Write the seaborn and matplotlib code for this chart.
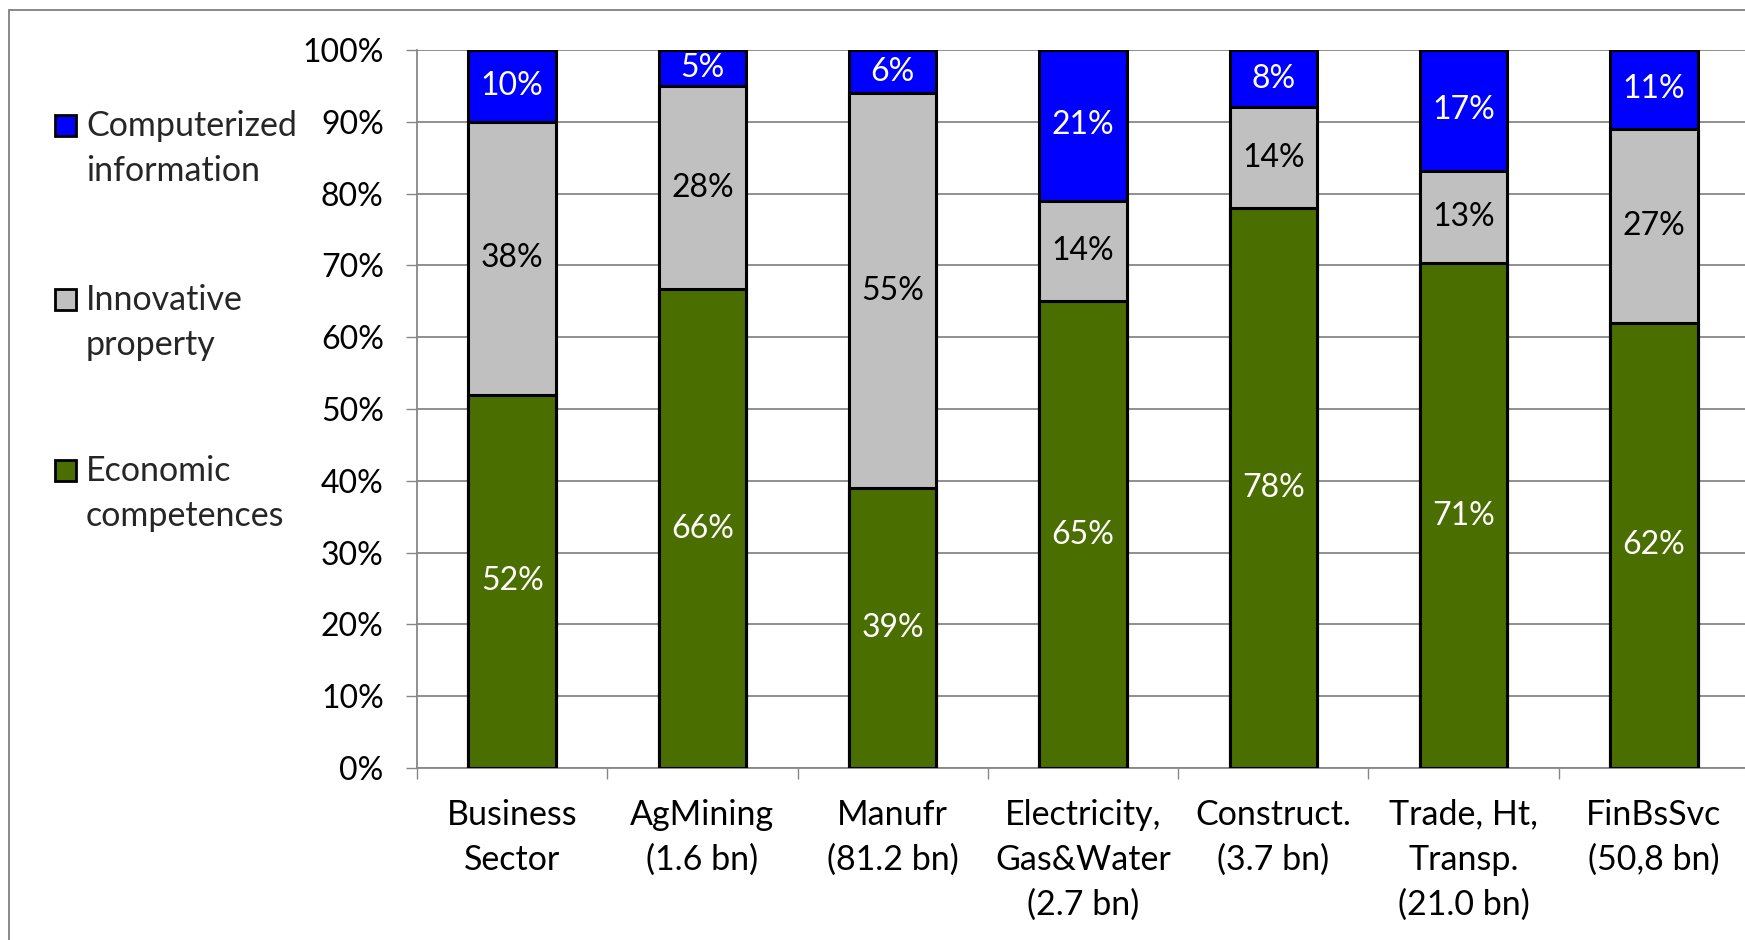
import numpy as np
import pandas as pd
import seaborn as sns
import matplotlib.pyplot as plt
from matplotlib.patches import Rectangle
from matplotlib.ticker import FixedLocator, FuncFormatter

# Intangible investment by asset type, share of each sector's total
sectors = [
    "Business\nSector",
    "AgMining\n(1.6 bn)",
    "Manufr\n(81.2 bn)",
    "Electricity,\nGas&Water\n(2.7 bn)",
    "Construct.\n(3.7 bn)",
    "Trade, Ht,\nTransp.\n(21.0 bn)",
    "FinBsSvc\n(50,8 bn)",
]
economic = [52, 66, 39, 65, 78, 71, 62]
innovative = [38, 28, 55, 14, 14, 13, 27]
computerized = [10, 5, 6, 21, 8, 17, 11]

series_names = ["Economic\ncompetences", "Innovative\nproperty", "Computerized\ninformation"]
series_values = [economic, innovative, computerized]
series_colors = ["#4a6e00", "#c0c0c0", "#0000ff"]
label_colors = ["white", "black", "white"]

FONT = "Lato"
FS_TEXT = 24.5   # category names and legend
FS_NUM = 23      # percentages
LINESPACING = 1.5

sns.set_theme(style="white")
plt.rcParams["font.family"] = [FONT, "DejaVu Sans"]

# 100 % stacked: each layer as a share of the sector total
vals = np.array(series_values, dtype=float)
shares = vals / vals.sum(axis=0) * 100
tops = np.cumsum(shares, axis=0)
bottoms = tops - shares

W, H = 1745, 940
fig = plt.figure(figsize=(W / 100, H / 100), dpi=100)
ax = fig.add_axes([417 / W, 1 - 768 / H, (1749 - 417) / W, (768 - 50) / H])

# outer chart border
fig.patches.append(Rectangle((9 / W, -0.05), 1.2, 1.05 - 10 / H,
                             transform=fig.transFigure, fill=False,
                             ec="#7f7f7f", lw=1.3, zorder=0))

# draw cumulative layers from the top down so the lower ones overlay
for i in reversed(range(len(series_names))):
    df = pd.DataFrame({"sector": sectors, "top": tops[i]})
    sns.barplot(data=df, x="sector", y="top", order=sectors, color=series_colors[i],
                saturation=1, width=0.46, edgecolor="black", linewidth=2.2,
                errorbar=None, ax=ax, zorder=3)

# value labels centred in each segment
for i in range(len(series_names)):
    for j in range(len(sectors)):
        ax.text(j, (bottoms[i, j] + tops[i, j]) / 2, f"{series_values[i][j]:.0f}%",
                ha="center", va="center", fontsize=FS_NUM, color=label_colors[i], zorder=5)

ax.set_xlim(-0.5, len(sectors) - 0.5)
ax.set_ylim(0, 100)
ax.set_xlabel("")
ax.set_ylabel("")
ax.yaxis.set_major_locator(FixedLocator(np.arange(0, 101, 10)))
ax.yaxis.set_major_formatter(FuncFormatter(lambda v, p: f"{v:.0f}%"))
ax.xaxis.set_minor_locator(FixedLocator(np.arange(-0.5, len(sectors), 1.0)))

ax.set_axisbelow(True)
ax.grid(axis="y", color="#878787", lw=1.3)
ax.grid(axis="x", visible=False)
for s in ["top", "right"]:
    ax.spines[s].set_visible(False)
for s in ["left", "bottom"]:
    ax.spines[s].set_color("#878787")
    ax.spines[s].set_linewidth(1.3)

ax.tick_params(axis="y", which="major", left=True, length=8, width=1, color="#878787",
               pad=16, labelsize=FS_NUM, labelcolor="black")
ax.tick_params(axis="x", which="major", bottom=False, length=0, pad=22,
               labelsize=FS_TEXT, labelcolor="black")
ax.tick_params(axis="x", which="minor", bottom=True, length=8, width=1, color="#878787")
for t in ax.get_xticklabels():
    t.set_linespacing(LINESPACING)
    t.set_va("top")

# legend on the left: swatch beside the first line of each two-line name
legend_rows = [(2, 125.8), (1, 299.4), (0, 470.8)]   # series index, first-line y (px)
line_gap = 45.6
sw = 21
for idx, y0 in legend_rows:
    fig.patches.append(Rectangle((55 / W, 1 - (y0 + sw / 2) / H), sw / W, sw / H,
                                 transform=fig.transFigure, facecolor=series_colors[idx],
                                 edgecolor="black", lw=2, zorder=4))
    fig.text(86 / W, 1 - (y0 + line_gap / 2) / H, series_names[idx],
             ha="left", va="center", fontsize=FS_TEXT, linespacing=LINESPACING)

fig.savefig("out.png", dpi=100)
